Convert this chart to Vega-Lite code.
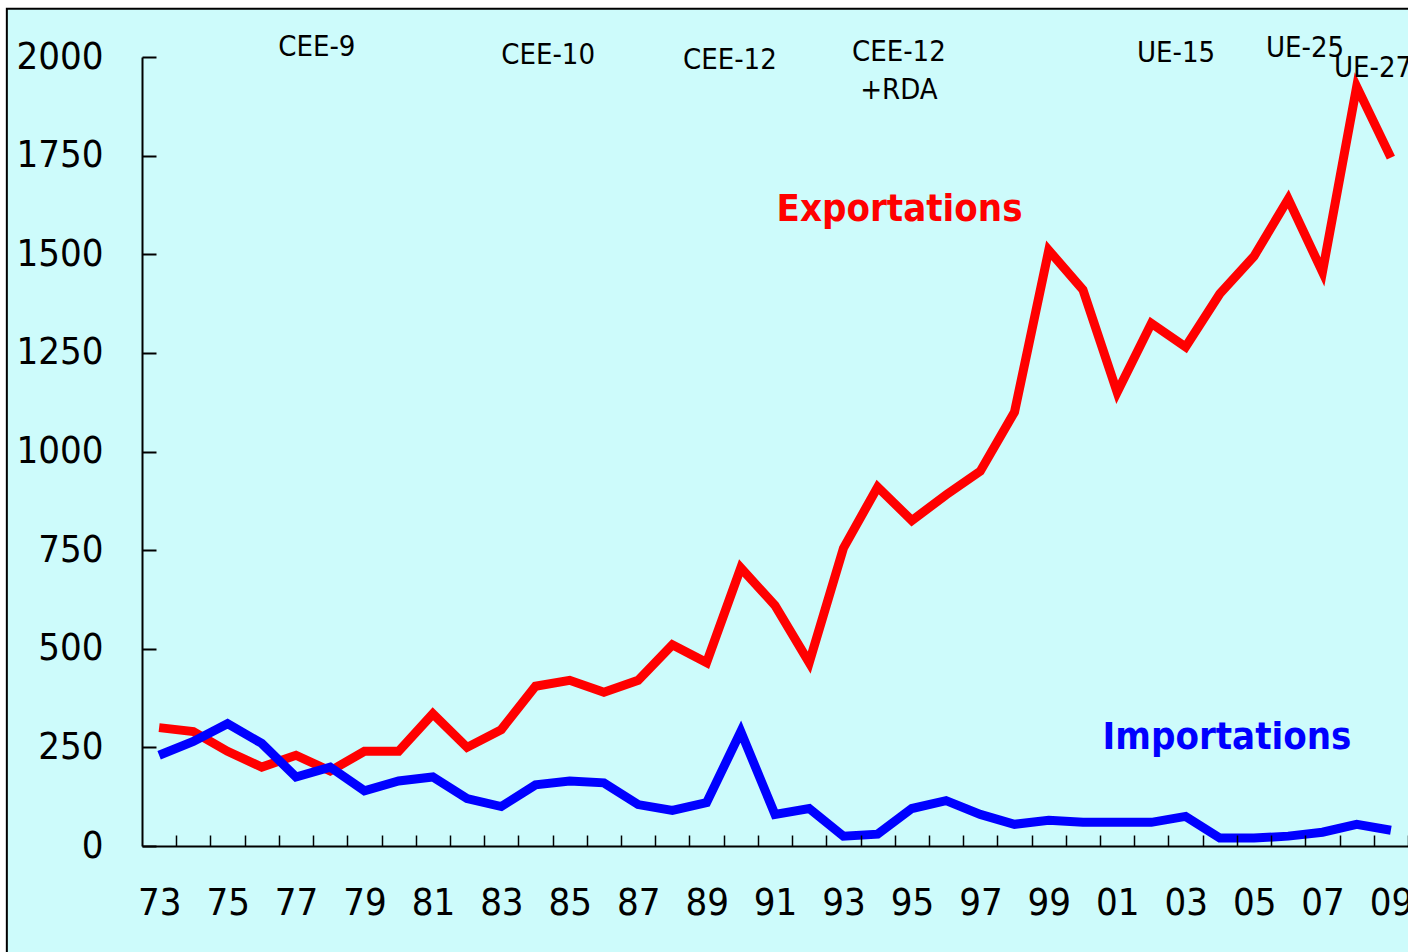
{
  "$schema": "https://vega.github.io/schema/vega-lite/v6.json",
  "width": 1266,
  "height": 789,
  "autosize": {"type": "none"},
  "padding": {"left": 142, "top": 57, "right": 0, "bottom": 106},
  "background": "#ffffff",
  "config": {
    "view": {"stroke": null},
    "font": "DejaVu Sans Condensed, Liberation Sans",
    "axis": {"labelFont": "DejaVu Sans Condensed, Liberation Sans", "labelColor": "#000000", "domainColor": "#000000", "domainWidth": 2, "tickColor": "#000000", "tickWidth": 2, "grid": false, "title": null}
  },
  "datasets": {
    "cadre": [{"an": 1968.55, "an2": 2013, "valeur": 2122, "valeur2": -330}],
    "flux": [
      {"an": 1973, "serie": "Exportations", "valeur": 300},
      {"an": 1974, "serie": "Exportations", "valeur": 290},
      {"an": 1975, "serie": "Exportations", "valeur": 240},
      {"an": 1976, "serie": "Exportations", "valeur": 200},
      {"an": 1977, "serie": "Exportations", "valeur": 230},
      {"an": 1978, "serie": "Exportations", "valeur": 190},
      {"an": 1979, "serie": "Exportations", "valeur": 240},
      {"an": 1980, "serie": "Exportations", "valeur": 240},
      {"an": 1981, "serie": "Exportations", "valeur": 335},
      {"an": 1982, "serie": "Exportations", "valeur": 250},
      {"an": 1983, "serie": "Exportations", "valeur": 295},
      {"an": 1984, "serie": "Exportations", "valeur": 405},
      {"an": 1985, "serie": "Exportations", "valeur": 420},
      {"an": 1986, "serie": "Exportations", "valeur": 390},
      {"an": 1987, "serie": "Exportations", "valeur": 420},
      {"an": 1988, "serie": "Exportations", "valeur": 510},
      {"an": 1989, "serie": "Exportations", "valeur": 465},
      {"an": 1990, "serie": "Exportations", "valeur": 705},
      {"an": 1991, "serie": "Exportations", "valeur": 610},
      {"an": 1992, "serie": "Exportations", "valeur": 465},
      {"an": 1993, "serie": "Exportations", "valeur": 755},
      {"an": 1994, "serie": "Exportations", "valeur": 910},
      {"an": 1995, "serie": "Exportations", "valeur": 825},
      {"an": 1996, "serie": "Exportations", "valeur": 890},
      {"an": 1997, "serie": "Exportations", "valeur": 950},
      {"an": 1998, "serie": "Exportations", "valeur": 1100},
      {"an": 1999, "serie": "Exportations", "valeur": 1510},
      {"an": 2000, "serie": "Exportations", "valeur": 1410},
      {"an": 2001, "serie": "Exportations", "valeur": 1150},
      {"an": 2002, "serie": "Exportations", "valeur": 1325},
      {"an": 2003, "serie": "Exportations", "valeur": 1265},
      {"an": 2004, "serie": "Exportations", "valeur": 1400},
      {"an": 2005, "serie": "Exportations", "valeur": 1495},
      {"an": 2006, "serie": "Exportations", "valeur": 1640},
      {"an": 2007, "serie": "Exportations", "valeur": 1455},
      {"an": 2008, "serie": "Exportations", "valeur": 1925},
      {"an": 2009, "serie": "Exportations", "valeur": 1745},
      {"an": 1973, "serie": "Importations", "valeur": 230},
      {"an": 1974, "serie": "Importations", "valeur": 265},
      {"an": 1975, "serie": "Importations", "valeur": 310},
      {"an": 1976, "serie": "Importations", "valeur": 260},
      {"an": 1977, "serie": "Importations", "valeur": 175},
      {"an": 1978, "serie": "Importations", "valeur": 200},
      {"an": 1979, "serie": "Importations", "valeur": 140},
      {"an": 1980, "serie": "Importations", "valeur": 165},
      {"an": 1981, "serie": "Importations", "valeur": 175},
      {"an": 1982, "serie": "Importations", "valeur": 120},
      {"an": 1983, "serie": "Importations", "valeur": 100},
      {"an": 1984, "serie": "Importations", "valeur": 155},
      {"an": 1985, "serie": "Importations", "valeur": 165},
      {"an": 1986, "serie": "Importations", "valeur": 160},
      {"an": 1987, "serie": "Importations", "valeur": 105},
      {"an": 1988, "serie": "Importations", "valeur": 90},
      {"an": 1989, "serie": "Importations", "valeur": 110},
      {"an": 1990, "serie": "Importations", "valeur": 290},
      {"an": 1991, "serie": "Importations", "valeur": 80},
      {"an": 1992, "serie": "Importations", "valeur": 95},
      {"an": 1993, "serie": "Importations", "valeur": 25},
      {"an": 1994, "serie": "Importations", "valeur": 30},
      {"an": 1995, "serie": "Importations", "valeur": 95},
      {"an": 1996, "serie": "Importations", "valeur": 115},
      {"an": 1997, "serie": "Importations", "valeur": 80},
      {"an": 1998, "serie": "Importations", "valeur": 55},
      {"an": 1999, "serie": "Importations", "valeur": 65},
      {"an": 2000, "serie": "Importations", "valeur": 60},
      {"an": 2001, "serie": "Importations", "valeur": 60},
      {"an": 2002, "serie": "Importations", "valeur": 60},
      {"an": 2003, "serie": "Importations", "valeur": 75},
      {"an": 2004, "serie": "Importations", "valeur": 20},
      {"an": 2005, "serie": "Importations", "valeur": 20},
      {"an": 2006, "serie": "Importations", "valeur": 25},
      {"an": 2007, "serie": "Importations", "valeur": 35},
      {"an": 2008, "serie": "Importations", "valeur": 55},
      {"an": 2009, "serie": "Importations", "valeur": 40}
    ],
    "etapes": [
      {"an": 1977.61, "valeur": 2025, "texte": "CEE-9"},
      {"an": 1984.37, "valeur": 2005, "texte": "CEE-10"},
      {"an": 1989.68, "valeur": 1992, "texte": "CEE-12"},
      {"an": 1994.62, "valeur": 2013, "texte": "CEE-12"},
      {"an": 1994.62, "valeur": 1916, "texte": "+RDA"},
      {"an": 2002.72, "valeur": 2010, "texte": "UE-15"},
      {"an": 2006.49, "valeur": 2023, "texte": "UE-25"},
      {"an": 2008.48, "valeur": 1972, "texte": "UE-27"}
    ],
    "noms": [
      {"an": 1994.64, "valeur": 1612, "serie": "Exportations"},
      {"an": 2004.21, "valeur": 274, "serie": "Importations"}
    ]
  },
  "encoding": {
    "x": {
      "field": "an", "type": "quantitative",
      "scale": {"domain": [1972.5, 2009.5], "nice": false, "zero": false},
      "axis": {
        "zindex": 2,
        "values": [1973.5, 1974.5, 1975.5, 1976.5, 1977.5, 1978.5, 1979.5, 1980.5, 1981.5, 1982.5, 1983.5, 1984.5, 1985.5, 1986.5, 1987.5, 1988.5, 1989.5, 1990.5, 1991.5, 1992.5, 1993.5, 1994.5, 1995.5, 1996.5, 1997.5, 1998.5, 1999.5, 2000.5, 2001.5, 2002.5, 2003.5, 2004.5, 2005.5, 2006.5, 2007.5, 2008.5, 2009.5],
        "labelExpr": "floor(datum.value) % 2 == 1 ? slice('' + floor(datum.value), 2) : ''",
        "labelOffset": -17,
        "labelFlush": false,
        "labelOverlap": false,
        "labelFontSize": 38,
        "labelPadding": 49,
        "tickSize": -11,
        "tickWidth": 1.5
      }
    },
    "y": {
      "field": "valeur", "type": "quantitative",
      "scale": {"domain": [0, 2000], "nice": false},
      "axis": {
        "zindex": 2,
        "values": [0, 250, 500, 750, 1000, 1250, 1500, 1750, 2000],
        "format": "d",
        "labelFontSize": 38,
        "labelPadding": 53,
        "tickSize": -14,
        "tickWidth": 2,
        "labelFlush": false,
        "labelOverlap": false
      }
    }
  },
  "layer": [
    {
      "data": {"name": "cadre"},
      "mark": {"type": "rect", "fill": "#cdfbfb", "stroke": "#000000", "strokeWidth": 2, "clip": false},
      "encoding": {
        "x2": {"field": "an2"},
        "y2": {"field": "valeur2"}
      }
    },
    {
      "data": {"name": "flux"},
      "mark": {"type": "line", "strokeWidth": 9, "strokeJoin": "miter", "strokeCap": "butt"},
      "encoding": {
        "color": {"field": "serie", "type": "nominal", "scale": {"domain": ["Exportations", "Importations"], "range": ["#ff0000", "#0000ff"]}, "legend": null}
      }
    },
    {
      "data": {"name": "etapes"},
      "mark": {"type": "text", "fontSize": 29, "color": "#000000", "baseline": "middle", "align": "center", "clip": false},
      "encoding": {
        "text": {"field": "texte"}
      }
    },
    {
      "data": {"name": "noms"},
      "mark": {"type": "text", "fontSize": 38, "fontWeight": "bold", "baseline": "middle", "align": "center"},
      "encoding": {
        "text": {"field": "serie"},
        "color": {"field": "serie", "type": "nominal", "legend": null}
      }
    }
  ]
}
